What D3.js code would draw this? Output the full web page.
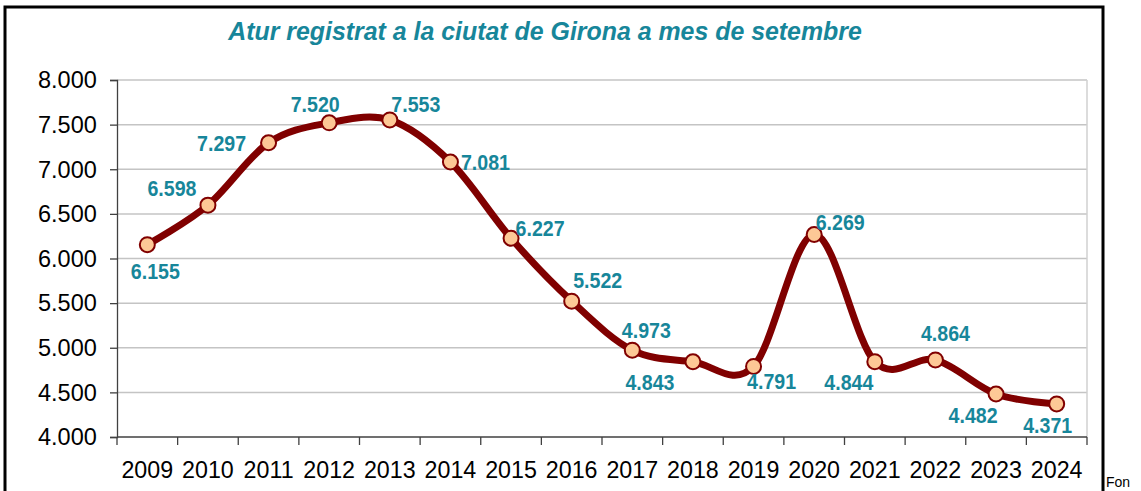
<!DOCTYPE html>
<html>
<head>
<meta charset="utf-8">
<script src="https://cdn.jsdelivr.net/npm/d3@7"></script>
<style>
  body { margin: 0; background: #fff; }
  text { font-family: "Liberation Sans", Arial, sans-serif; }
</style>
</head>
<body>
<script>
let width = 1141, height = 491;

// data
let years = ["2009","2010","2011","2012","2013","2014","2015","2016","2017","2018","2019","2020","2021","2022","2023","2024"];
let atur = [6155, 6598, 7297, 7520, 7553, 7081, 6227, 5522, 4973, 4843, 4791, 6269, 4844, 4864, 4482, 4371];
let yTicks = [4000, 4500, 5000, 5500, 6000, 6500, 7000, 7500, 8000];
// label placement relative to point: [dx, dy]
let labelPos = [[8, 34], [-36, -9], [-47, 8], [-14, -11], [26, -8], [35, 8], [29, -2], [26, -13], [14, -12], [-43, 28], [18, 23], [26, -4], [-26, 28], [10, -19], [-23, 29], [-9, 29]];

let fmt = d => d3.format(",")(d).replace(/,/g, ".");

let svg = d3.select("body").append("svg")
    .attr("width", width)
    .attr("height", height);

// outer frame
svg.append("rect")
    .attr("x", 5).attr("y", 7)
    .attr("width", 1098).attr("height", 520)
    .attr("fill", "none")
    .attr("stroke", "#000")
    .attr("stroke-width", 3);

let margin = {left: 117, right: 1087, top: 80, bottom: 437};

let x = d3.scaleBand().domain(years).range([margin.left, margin.right]);
let y = d3.scaleLinear().domain([4000, 8000]).range([margin.bottom, margin.top]);

// grid
svg.append("g").selectAll("line").data(yTicks.slice(1)).enter().append("line")
    .attr("x1", margin.left).attr("x2", margin.right)
    .attr("y1", d => y(d)).attr("y2", d => y(d))
    .attr("stroke", "#c4c4c4")
    .attr("stroke-width", 1.5);

svg.append("line")
    .attr("x1", margin.right).attr("x2", margin.right)
    .attr("y1", margin.top).attr("y2", margin.bottom)
    .attr("stroke", "#d0d0d0").attr("stroke-width", 1.5);

// y axis
let yAxis = svg.append("g")
    .attr("transform", "translate(" + margin.left + ",0)")
    .call(d3.axisLeft(y).tickValues(yTicks).tickFormat(fmt).tickSize(7).tickPadding(14));
yAxis.selectAll("text").attr("font-size", 24.5).attr("fill", "#000")
    .attr("transform", "scale(0.96,1)")
    .style("font-family", "'Liberation Sans', Arial, sans-serif");
yAxis.selectAll("line, path").attr("stroke", "#404040").attr("stroke-width", 1.3);

// x axis, ticks at band edges
let xAxis = svg.append("g")
    .attr("transform", "translate(0," + margin.bottom + ")");
xAxis.append("line")
    .attr("x1", margin.left).attr("x2", margin.right)
    .attr("stroke", "#404040").attr("stroke-width", 1.3);
let edges = years.map(d => x(d)).concat([margin.right]);
xAxis.selectAll("line.tk").data(edges).enter().append("line")
    .attr("class", "tk")
    .attr("x1", d => d).attr("x2", d => d)
    .attr("y1", 0).attr("y2", 8)
    .attr("stroke", "#404040").attr("stroke-width", 1.3);
xAxis.selectAll("text").data(years).enter().append("text")
    .attr("transform", d => "translate(" + (x(d) + x.bandwidth() / 2) + ",41) scale(0.95,1)")
    .attr("text-anchor", "middle")
    .attr("font-size", 24.5)
    .text(d => d);

// line
let pts = atur.map((v, i) => [x(years[i]) + x.bandwidth() / 2, y(v)]);
svg.append("path")
    .attr("d", d3.line().curve(d3.curveCardinal.tension(0))(pts))
    .attr("fill", "none")
    .attr("stroke", "#800000")
    .attr("stroke-width", 7)
    .attr("stroke-linejoin", "round");

svg.append("g").selectAll("circle").data(pts).enter().append("circle")
    .attr("cx", d => d[0]).attr("cy", d => d[1])
    .attr("r", 7.5)
    .attr("fill", "#fdc896")
    .attr("stroke", "#800000")
    .attr("stroke-width", 2);

// value labels
svg.append("g").selectAll("text").data(atur).enter().append("text")
    .attr("transform", (d, i) => "translate(" + (pts[i][0] + labelPos[i][0]) + "," + (pts[i][1] + labelPos[i][1]) + ") scale(0.87,1)")
    .attr("text-anchor", "middle")
    .attr("font-size", 22.5)
    .attr("font-weight", "bold")
    .attr("fill", "#17869a")
    .text(fmt);

// title
svg.append("text")
    .attr("transform", "translate(545,40) scale(0.94,1)")
    .attr("text-anchor", "middle")
    .attr("font-size", 26.5)
    .attr("font-weight", "bold")
    .attr("font-style", "italic")
    .attr("fill", "#17869a")
    .text("Atur registrat a la ciutat de Girona a mes de setembre");

svg.append("text")
    .attr("x", 1106).attr("y", 487)
    .attr("font-size", 14)
    .text("Fon");
</script>
</body>
</html>
